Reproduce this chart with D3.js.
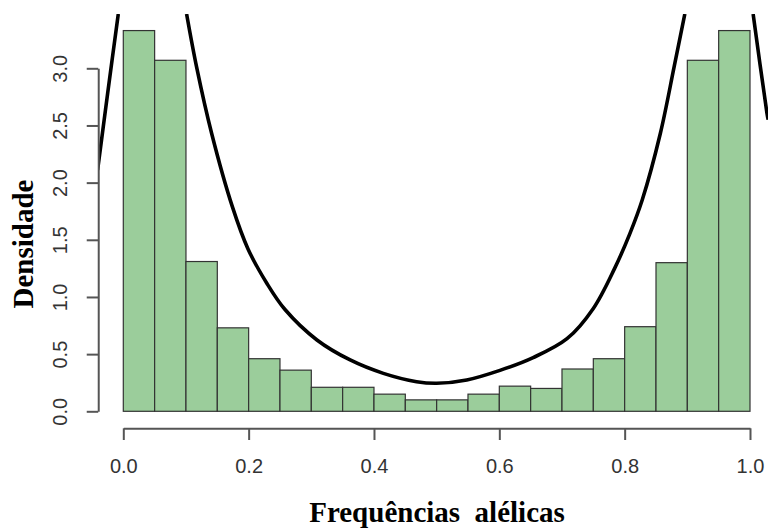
<!DOCTYPE html>
<html>
<head>
<meta charset="utf-8">
<script src="https://cdn.jsdelivr.net/npm/d3@7"></script>
<style>
    body { margin: 0; background: #fff; }
    svg { display: block; }
</style>
</head>
<body>
<div id="chart"></div>
<script>
// Histogram data (density per bin, 20 bins of width 0.05)
const binStarts = [0.00, 0.05, 0.10, 0.15, 0.20, 0.25, 0.30, 0.35, 0.40, 0.45,
                   0.50, 0.55, 0.60, 0.65, 0.70, 0.75, 0.80, 0.85, 0.90, 0.95];
const binDensity = [3.33, 3.07, 1.31, 0.73, 0.46, 0.36, 0.21, 0.21, 0.15, 0.10,
                    0.10, 0.15, 0.22, 0.20, 0.37, 0.46, 0.74, 1.30, 3.07, 3.33];
const BIN_WIDTH = 0.05;

// Fitted density curve (null = leaves the plot at the top)
const curveX = [-0.041, -0.025, -0.008, null,
                0.101, 0.117, 0.141, 0.174, 0.199, 0.229, 0.258, 0.309, 0.362, 0.415, 0.468, 0.500,
                0.548, 0.601, 0.654, 0.708, 0.750, 0.784, 0.808, 0.828, 0.857, 0.879, 0.896, null,
                1.005, 1.027, 1.029];
const curveY = [2.11, 2.78, 3.475, null,
                3.475, 3.01, 2.43, 1.79, 1.42, 1.12, 0.89, 0.624, 0.449, 0.332, 0.259, 0.245,
                0.274, 0.358, 0.47, 0.635, 0.90, 1.25, 1.55, 1.848, 2.432, 3.014, 3.475, null,
                3.475, 2.61, 2.55];

const xTicks = [0, 0.2, 0.4, 0.6, 0.8, 1.0];
const yTicks = [0, 0.5, 1.0, 1.5, 2.0, 2.5, 3.0];

const xTitle = "Frequências  alélicas";
const yTitle = "Densidade";

const WIDTH = 768;
const HEIGHT = 530;

const svg = d3.select("#chart")
    .append("svg")
    .attr("width", WIDTH)
    .attr("height", HEIGHT);

// scales (R style: usr range has 4% padding, axis sits on the edge)
const x = d3.scaleLinear().domain([0, 1]).range([123.3, 750]);
const y = d3.scaleLinear().domain([0, 3]).range([411.3, 68.3]);

const plotTop = 14;
const plotLeft = x(-0.04);
const plotBottom = 428.3;

// clip for the curve
svg.append("defs")
    .append("clipPath")
    .attr("id", "plot-clip")
    .append("rect")
    .attr("x", plotLeft)
    .attr("y", plotTop)
    .attr("width", WIDTH - plotLeft)
    .attr("height", plotBottom - plotTop);

// bars
svg.selectAll(".bar")
    .data(binStarts.map((s, i) => ({ start: s, value: binDensity[i] })))
    .enter()
    .append("rect")
    .attr("class", "bar")
    .attr("x", d => x(d.start))
    .attr("y", d => y(d.value))
    .attr("width", d => x(d.start + BIN_WIDTH) - x(d.start))
    .attr("height", d => y(0) - y(d.value))
    .attr("fill", "#9BCD9B")
    .attr("stroke", "#333")
    .attr("stroke-width", 1.2);

// density curve
const curvePts = curveX.map((v, i) => ({ x: v, y: curveY[i] }));

svg.append("path")
    .datum(curvePts)
    .attr("clip-path", "url(#plot-clip)")
    .attr("fill", "none")
    .attr("stroke", "#000")
    .attr("stroke-width", 3.6)
    .attr("stroke-linejoin", "round")
    .attr("d", d3.line()
        .defined(d => d.x !== null)
        .x(d => x(d.x))
        .y(d => y(d.y))
        .curve(d3.curveCatmullRom.alpha(0.5)));

// x axis
const xAxis = svg.append("g")
    .attr("transform", `translate(0, ${plotBottom})`)
    .call(d3.axisBottom(x)
        .tickValues(xTicks)
        .tickFormat(d3.format(".1f"))
        .tickSize(11.7)
        .tickSizeOuter(0));

xAxis.select(".domain").attr("stroke", "#555").attr("stroke-width", 2);
xAxis.selectAll(".tick line").attr("stroke", "#555").attr("stroke-width", 2);
xAxis.selectAll(".tick text")
    .attr("y", 45)
    .attr("dy", 0)
    .style("font-family", "'Liberation Sans', Arial, sans-serif")
    .style("font-size", "20px")
    .attr("fill", "#333");

// y axis
const yAxis = svg.append("g")
    .attr("transform", `translate(${plotLeft}, 0)`)
    .call(d3.axisLeft(y)
        .tickValues(yTicks)
        .tickFormat(d3.format(".1f"))
        .tickSize(11.5)
        .tickSizeOuter(0));

yAxis.select(".domain").attr("stroke", "#555").attr("stroke-width", 2);
yAxis.selectAll(".tick line").attr("stroke", "#555").attr("stroke-width", 2);
yAxis.selectAll(".tick text")
    .attr("x", 0)
    .attr("dy", 0)
    .attr("text-anchor", "middle")
    .attr("transform", `translate(${66.5 - plotLeft}, 0) rotate(-90)`)
    .style("font-family", "'Liberation Sans', Arial, sans-serif")
    .style("font-size", "20px")
    .attr("fill", "#333");

// titles
svg.append("text")
    .attr("x", 437)
    .attr("y", 521.5)
    .attr("text-anchor", "middle")
    .style("white-space", "pre")
    .style("font-family", "'Liberation Serif', 'Times New Roman', serif")
    .style("font-weight", "bold")
    .style("font-size", "29px")
    .text(xTitle);

svg.append("text")
    .attr("transform", "translate(33, 244) rotate(-90)")
    .attr("text-anchor", "middle")
    .style("font-family", "'Liberation Serif', 'Times New Roman', serif")
    .style("font-weight", "bold")
    .style("font-size", "29px")
    .text(yTitle);
</script>
</body>
</html>
